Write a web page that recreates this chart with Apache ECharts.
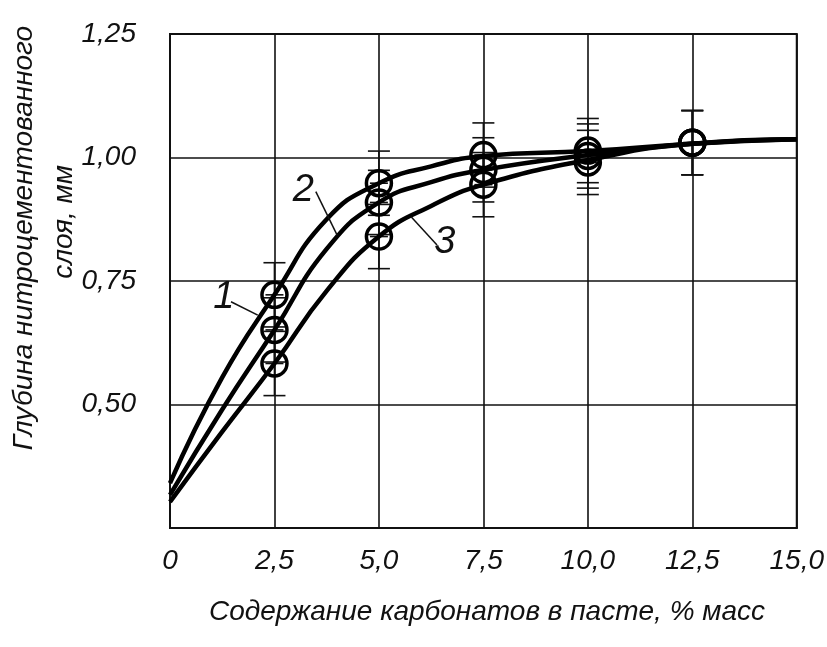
<!DOCTYPE html>
<html>
<head>
<meta charset="utf-8">
<script src="https://cdn.jsdelivr.net/npm/echarts@6/dist/echarts.min.js"></script>
<style>
  html, body { margin: 0; padding: 0; background: #fff; }
  #chart { width: 827px; height: 647px; }
</style>
</head>
<body>
<div id="chart"></div>
<script>
// Axis ticks and their printed labels (comma decimal separator)
const xTickValues = [0, 2.5, 5, 7.5, 10, 12.5, 15];
const xTickLabels = ['0', '2,5', '5,0', '7,5', '10,0', '12,5', '15,0'];
const yTickValues = [0.5, 0.75, 1.0, 1.25];
const yTickLabels = ['0,50', '0,75', '1,00', '1,25'];

// Measured layer depth, mm, at each carbonate content, % mass
const sampleX = [2.5, 5.0, 7.5, 10.0, 12.5];
const depth1 = [0.722, 0.948, 1.005, 1.014, 1.030];
const depth2 = [0.651, 0.909, 0.975, 1.003, 1.030];
const depth3 = [0.583, 0.840, 0.945, 0.990, 1.030];
const depthSpread = 0.065; // half-width of the scatter bars, mm

// Fitted curves 1, 2, 3
const curveX = [0, 1.25, 2.5, 3.75, 5.0, 6.25, 7.5, 10.0, 12.5, 15.0];
const curve1 = [0.341, 0.555, 0.722, 0.875, 0.948, 0.982, 1.003, 1.013, 1.028, 1.037];
const curve2 = [0.317, 0.490, 0.651, 0.815, 0.909, 0.950, 0.975, 1.005, 1.028, 1.037];
const curve3 = [0.303, 0.445, 0.583, 0.730, 0.840, 0.902, 0.945, 0.995, 1.028, 1.037];

// Curve numbers with leader lines: [labelX, labelY, fromX, fromY, toX, toY]
const tagText = ['1', '2', '3'];
const tagAnchors = [
  [1.29, 0.716, 1.46, 0.708, 2.10, 0.681],
  [3.19, 0.934, 3.49, 0.931, 4.00, 0.843],
  [6.58, 0.829, 6.39, 0.823, 5.77, 0.880]
];

const FONT = "'Liberation Sans', 'DejaVu Sans', sans-serif";
const INK = '#111';

function pairs(xs, ys) { return xs.map((x, i) => [x, ys[i]]); }

const chart = echarts.init(document.getElementById('chart'), null, { renderer: 'canvas' });

function curveSeries(name, ys) {
  return {
    name: name,
    type: 'line',
    data: pairs(curveX, ys),
    smooth: 0.5,
    showSymbol: false,
    lineStyle: { color: '#000', width: 4.5 },
    z: 3,
    silent: true
  };
}

function barSeries(ys) {
  return {
    type: 'custom',
    data: pairs(sampleX, ys),
    z: 2,
    silent: true,
    renderItem: function (params, api) {
      const x = api.value(0), y = api.value(1);
      const c = api.coord([x, y]);
      const t = api.coord([x, y + depthSpread]);
      const b = api.coord([x, y - depthSpread]);
      const st = { stroke: INK, lineWidth: 1.6 };
      return {
        type: 'group',
        children: [
          { type: 'line', shape: { x1: t[0], y1: t[1], x2: b[0], y2: b[1] }, style: st },
          { type: 'line', shape: { x1: t[0] - 11, y1: t[1], x2: t[0] + 11, y2: t[1] }, style: st },
          { type: 'line', shape: { x1: b[0] - 11, y1: b[1], x2: b[0] + 11, y2: b[1] }, style: st },
          { type: 'line', shape: { x1: c[0] - 9, y1: c[1], x2: c[0] + 9, y2: c[1] }, style: st }
        ]
      };
    }
  };
}

function pointSeries(ys) {
  return {
    type: 'scatter',
    data: pairs(sampleX, ys),
    symbol: 'circle',
    symbolSize: 25,
    itemStyle: { color: 'rgba(0,0,0,0)', borderColor: '#000', borderWidth: 3.5, opacity: 1 },
    z: 4,
    silent: true
  };
}

const option = {
  backgroundColor: '#fff',
  animation: false,
  grid: {
    left: 170, right: 27, top: 34, bottom: 119,
    show: true, borderColor: INK, borderWidth: 2
  },
  xAxis: {
    type: 'value',
    min: 0, max: 15, interval: 2.5,
    axisLine: { show: true, lineStyle: { color: INK, width: 2 } },
    axisTick: { show: false },
    splitLine: { show: true, lineStyle: { color: INK, width: 1.6 } },
    axisLabel: {
      margin: 19,
      fontFamily: FONT, fontStyle: 'italic', fontSize: 28, color: INK,
      formatter: function (v) {
        const i = xTickValues.findIndex(t => Math.abs(t - v) < 1e-6);
        return i >= 0 ? xTickLabels[i] : '';
      }
    }
  },
  yAxis: {
    type: 'value',
    min: 0.25, max: 1.25, interval: 0.25,
    axisLine: { show: true, lineStyle: { color: INK, width: 2 } },
    axisTick: { show: false },
    splitLine: { show: true, lineStyle: { color: INK, width: 1.6 } },
    axisLabel: {
      margin: 34,
      showMinLabel: false,
      fontFamily: FONT, fontStyle: 'italic', fontSize: 28, color: INK,
      formatter: function (v) {
        const i = yTickValues.findIndex(t => Math.abs(t - v) < 1e-6);
        return i >= 0 ? yTickLabels[i] : '';
      }
    }
  },
  graphic: [
    {
      type: 'text', x: 487, y: 612,
      style: {
        text: 'Содержание карбонатов в пасте, % масс',
        font: 'italic 28px ' + FONT, fill: INK,
        textAlign: 'center', textVerticalAlign: 'middle'
      }
    },
    {
      type: 'text', x: 24, y: 238, rotation: Math.PI / 2,
      style: {
        text: 'Глубина нитроцементованного',
        font: 'italic 28px ' + FONT, fill: INK,
        textAlign: 'center', textVerticalAlign: 'middle'
      }
    },
    {
      type: 'text', x: 64, y: 222, rotation: Math.PI / 2,
      style: {
        text: 'слоя, мм',
        font: 'italic 28px ' + FONT, fill: INK,
        textAlign: 'center', textVerticalAlign: 'middle'
      }
    }
  ],
  series: [
    curveSeries('1', curve1),
    curveSeries('2', curve2),
    curveSeries('3', curve3),
    barSeries(depth1),
    barSeries(depth2),
    barSeries(depth3),
    pointSeries(depth1),
    pointSeries(depth2),
    pointSeries(depth3),
    {
      type: 'custom',
      data: tagAnchors,
      z: 5,
      silent: true,
      renderItem: function (params, api) {
        const lab = api.coord([api.value(0), api.value(1)]);
        const a = api.coord([api.value(2), api.value(3)]);
        const b = api.coord([api.value(4), api.value(5)]);
        return {
          type: 'group',
          children: [
            { type: 'line', shape: { x1: a[0], y1: a[1], x2: b[0], y2: b[1] },
              style: { stroke: INK, lineWidth: 1.5 } },
            { type: 'text', x: lab[0], y: lab[1],
              style: { text: tagText[params.dataIndex], font: 'italic 38px ' + FONT,
                       fill: INK, textAlign: 'center', textVerticalAlign: 'middle' } }
          ]
        };
      }
    }
  ]
};

chart.setOption(option);
</script>
</body>
</html>
